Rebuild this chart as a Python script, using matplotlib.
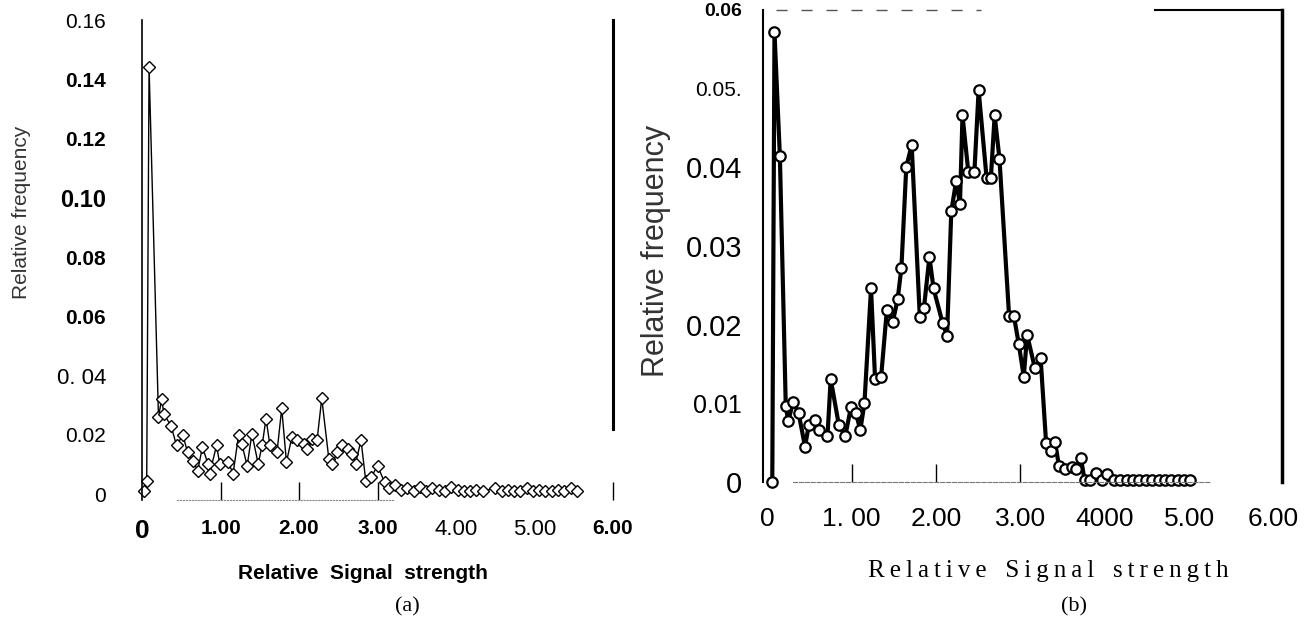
import matplotlib
matplotlib.use("Agg")
import matplotlib.pyplot as plt

# panel (a): diamonds
sig_a = [0.025, 0.06, 0.09, 0.21, 0.25, 0.28, 0.37, 0.44, 0.52, 0.58, 0.65, 0.71,
         0.77, 0.84, 0.86, 0.95, 0.99, 1.10, 1.16, 1.23, 1.27, 1.34, 1.40, 1.48,
         1.53, 1.58, 1.63, 1.72, 1.78, 1.84, 1.91, 1.97, 2.06, 2.10, 2.16, 2.23,
         2.29, 2.38, 2.42, 2.49, 2.55, 2.62, 2.68, 2.72, 2.79, 2.85, 2.92, 3.00,
         3.09, 3.15, 3.22, 3.30, 3.38, 3.46, 3.54, 3.62, 3.70, 3.78, 3.86, 3.94,
         4.02, 4.10, 4.18, 4.26, 4.34, 4.50, 4.58, 4.66, 4.74, 4.82, 4.90, 4.98,
         5.06, 5.14, 5.22, 5.30, 5.38, 5.46, 5.54]
freq_a = [0.001, 0.0045, 0.144, 0.026, 0.032, 0.027, 0.023, 0.0164, 0.0199, 0.0142,
          0.0113, 0.0079, 0.0159, 0.0102, 0.0068, 0.0164, 0.0102, 0.0108, 0.0068,
          0.0199, 0.0170, 0.0096, 0.0204, 0.0102, 0.0164, 0.0255, 0.0164, 0.0142,
          0.0289, 0.0108, 0.0193, 0.0182, 0.0170, 0.0153, 0.0187, 0.0182, 0.0323,
          0.0119, 0.0102, 0.0142, 0.0164, 0.0153, 0.0136, 0.0102, 0.0182, 0.0045,
          0.0057, 0.0096, 0.0040, 0.0020, 0.003, 0.0015, 0.002, 0.001, 0.0025,
          0.001, 0.002, 0.0015, 0.001, 0.0025, 0.0015, 0.001, 0.001, 0.0015, 0.001,
          0.002, 0.001, 0.0015, 0.001, 0.001, 0.002, 0.001, 0.0015, 0.001, 0.001,
          0.0015, 0.001, 0.002, 0.001]

# panel (b): circles
sig_b = [0.06, 0.086, 0.15, 0.22, 0.25, 0.306, 0.371, 0.448, 0.494, 0.562, 0.619,
         0.714, 0.752, 0.848, 0.924, 0.992, 1.05, 1.103, 1.152, 1.23, 1.278, 1.35,
         1.418, 1.487, 1.545, 1.59, 1.648, 1.712, 1.808, 1.857, 1.922, 1.971,
         2.078, 2.131, 2.181, 2.238, 2.284, 2.314, 2.383, 2.455, 2.505, 2.6, 2.65,
         2.695, 2.752, 2.866, 2.923, 2.98, 3.04, 3.08, 3.171, 3.24, 3.305, 3.362,
         3.411, 3.457, 3.526, 3.61, 3.66, 3.716, 3.76, 3.83, 3.90, 3.97, 4.03,
         4.11, 4.18, 4.26, 4.33, 4.41, 4.49, 4.56, 4.64, 4.71, 4.79, 4.87, 4.94,
         5.01]
freq_b = [0.0, 0.0572, 0.0414, 0.0096, 0.0077, 0.0102, 0.0088, 0.0045, 0.0073,
          0.0079, 0.0066, 0.0058, 0.0131, 0.0073, 0.0058, 0.0095, 0.0088, 0.0066,
          0.0100, 0.0246, 0.0131, 0.0134, 0.0219, 0.0203, 0.0232, 0.0272, 0.0401,
          0.0428, 0.0210, 0.0221, 0.0286, 0.0246, 0.0202, 0.0186, 0.0344, 0.0382,
          0.0354, 0.0466, 0.0394, 0.0394, 0.0498, 0.0386, 0.0386, 0.0466, 0.0411,
          0.0211, 0.0211, 0.0176, 0.0134, 0.0187, 0.0145, 0.0157, 0.0049, 0.0039,
          0.0051, 0.0020, 0.0017, 0.0019, 0.0017, 0.0031, 0.0003, 0.0003, 0.0011,
          0.0002, 0.0010, 0.0002, 0.0002, 0.0002, 0.0002, 0.0002, 0.0002, 0.0002,
          0.0002, 0.0002, 0.0002, 0.0002, 0.0002, 0.0002]

xticks = [0, 1, 2, 3, 4, 5, 6]
xlabels_a = ["0", "1.00", "2.00", "3.00", "4.00", "5.00", "6.00"]
xlabels_b = ["0", "1. 00", "2.00", "3.00", "4000", "5.00", "6.00"]
yticks_a = [0, 0.02, 0.04, 0.06, 0.08, 0.10, 0.12, 0.14, 0.16]
ylabels_a = ["0", "0.02", "0. 04", "0.06", "0.08", "0.10", "0.12", "0.14", "0.16"]
yticks_b = [0, 0.01, 0.02, 0.03, 0.04, 0.05, 0.06]
ylabels_b = ["0", "0.01", "0.02", "0.03", "0.04", "0.05.", "0.06"]

SANS = ["Liberation Sans", "DejaVu Sans"]
SERIF = ["Liberation Serif", "DejaVu Serif"]

def spaced(word):
    return "\u2009".join(word)

fig = plt.figure(figsize=(13.05, 6.18), dpi=100)

# ---------- (a) ----------
ax = fig.add_axes([142/1305, 1-500/618, 471/1305, 480/618])
ax.plot(sig_a, freq_a, color="black", lw=1.0, marker="D", ms=6.5,
        mfc="white", mec="black", mew=1.0, clip_on=False)
ax.set_xlim(0, 6)
ax.set_ylim(-0.002, 0.16)
ax.set_xticks(xticks)
ax.set_xticklabels(xlabels_a)
ax.set_yticks(yticks_a)
ax.set_yticklabels(ylabels_a)
ax.tick_params(axis="y", length=0, pad=26)
ax.tick_params(axis="x", direction="in", length=13, width=1, pad=14)
for i, t in enumerate(ax.xaxis.get_major_ticks()):
    t.tick1line.set_visible(i in (1, 2, 3, 6))
    if i == 6:
        t.tick1line.set_color("#999999")

wa = ["bold", "bold", "bold", "bold", "normal", "normal", "bold"]
sa = [19, 15, 15, 15, 16, 16, 15]
for lab, w, s in zip(ax.get_xticklabels(), wa, sa):
    lab.set_fontfamily(SANS)
    lab.set_fontweight(w)
    lab.set_fontsize(s)

wy = ["normal", "normal", "light", "bold", "bold", "bold", "bold", "bold", "normal"]
sy = [15, 15, 16, 15, 15, 17, 15, 15, 15]
for lab, w, s in zip(ax.get_yticklabels(), wy, sy):
    lab.set_fontfamily(SANS)
    lab.set_fontweight(w)
    lab.set_fontsize(s)

ax.spines["top"].set_visible(False)
ax.spines["left"].set_linewidth(1.2)
ax.spines["right"].set_linewidth(2.2)
ax.spines["right"].set_bounds(0.022, 0.16)
ax.spines["bottom"].set_linestyle(":")
ax.spines["bottom"].set_color("#888888")
ax.spines["bottom"].set_linewidth(0.8)
ax.spines["bottom"].set_bounds(0.45, 3.2)

ax.set_ylabel("Relative frequency", fontsize=15, family=SANS, color="#333333")
ax.yaxis.set_label_coords(-0.235, 0.6)
ax.set_xlabel("Relative  Signal  strength", fontsize=15, fontweight="bold", family=SANS)
ax.xaxis.set_label_coords(0.47, -0.133)
ax.text(0.563, -0.223, "(a)", transform=ax.transAxes, ha="center", va="center",
        fontsize=16, family=SERIF)

# ---------- (b) ----------
bx = fig.add_axes([763/1305, 1-482/618, 519/1305, 472/618])
bx.plot(sig_b, freq_b, color="black", lw=3.0, marker="o", ms=7.5,
        mfc="white", mec="black", mew=1.6, clip_on=False)
bx.set_xlim(-0.05, 6.1)
bx.set_ylim(0, 0.06)
bx.set_xticks(xticks)
bx.set_xticklabels(xlabels_b)
bx.set_yticks(yticks_b)
bx.set_yticklabels(ylabels_b)
bx.tick_params(axis="y", length=0, pad=15)
bx.tick_params(axis="x", direction="in", length=13, width=1, pad=18)
for i, t in enumerate(bx.xaxis.get_major_ticks()):
    t.tick1line.set_visible(i in (1, 2, 3))

for lab in bx.get_xticklabels():
    lab.set_fontfamily(SANS)
    lab.set_fontsize(19)

wby = ["normal"] * 6 + ["bold"]
sby = [21, 18, 21, 21, 21, 15, 14]
for lab, w, s in zip(bx.get_yticklabels(), wby, sby):
    lab.set_fontfamily(SANS)
    lab.set_fontweight(w)
    lab.set_fontsize(s)

bx.spines["left"].set_linewidth(1.5)
bx.spines["right"].set_linewidth(2.5)
bx.spines["top"].set_linewidth(1.5)
bx.spines["top"].set_bounds(4.6, 6.1)
bx.spines["bottom"].set_linestyle("--")
bx.spines["bottom"].set_color("#777777")
bx.spines["bottom"].set_linewidth(0.8)
bx.spines["bottom"].set_bounds(0.3, 5.25)
# broken remains of the top frame on the left side
bx.plot([0.025, 0.42], [1.0, 1.0], transform=bx.transAxes, color="#555555",
        lw=1.0, ls=(0, (8, 10)), clip_on=False)

bx.set_ylabel("Relative frequency", fontsize=22, family=SANS, color="#333333")
bx.yaxis.set_label_coords(-0.178, 0.49)
bx.set_xlabel("   ".join(spaced(w) for w in ["Relative", "Signal", "strength"]),
              fontsize=18, family=SERIF)
bx.xaxis.set_label_coords(0.55, -0.165)
bx.text(0.60, -0.265, "(b)", transform=bx.transAxes, ha="center", va="center",
        fontsize=16, family=SERIF)

fig.savefig("out.png", dpi=100, facecolor="white")
